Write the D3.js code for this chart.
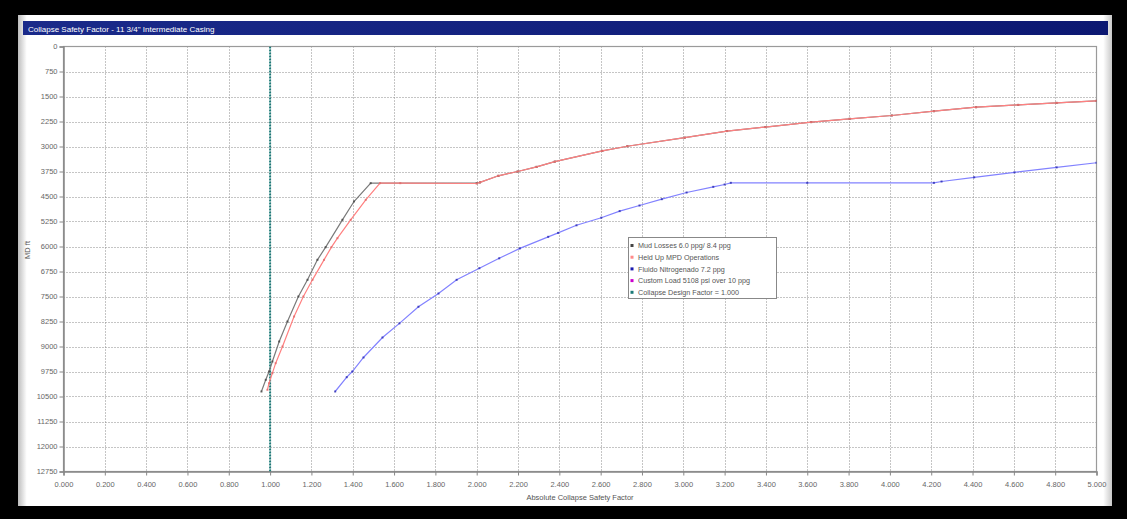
<!DOCTYPE html>
<html><head><meta charset="utf-8">
<script src="https://cdn.jsdelivr.net/npm/d3@7"></script>
<style>
html,body{margin:0;padding:0;background:#000;}
svg text{font-family:"Liberation Sans",Arial,sans-serif;}
</style></head>
<body>
<script>
// ---- data ----
const title = 'Collapse Safety Factor - 11 3/4" Intermediate Casing';
const xTitle = "Absolute Collapse Safety Factor";
const yTitle = "MD ft";
const xTicks = [0,0.2,0.4,0.6,0.8,1.0,1.2,1.4,1.6,1.8,2.0,2.2,2.4,2.6,2.8,3.0,3.2,3.4,3.6,3.8,4.0,4.2,4.4,4.6,4.8,5.0];
const yTicks = [0,750,1500,2250,3000,3750,4500,5250,6000,6750,7500,8250,9000,9750,10500,11250,12000,12750];
const seriesNames = ["Mud Losses 6.0 ppg/ 8.4 ppg","Held Up MPD Operations","Fluido Nitrogenado 7.2 ppg","Custom Load 5108 psi over 10  ppg","Collapse Design Factor = 1.000"];
// [safety factor, MD ft]
const mudLosses = [[0.958,10350],[0.979,10000],[0.995,9750],[1.011,9450],[1.044,8850],[1.084,8250],[1.137,7500],[1.181,7000],[1.229,6400],[1.269,6020],[1.35,5200],[1.406,4650],[1.487,4100],[2.0,4100],[2.016,4077],[2.105,3879],[2.198,3750],[2.29,3611],[2.378,3453],[2.608,3131],[2.729,2992],[3.007,2734],[3.211,2536],[3.397,2417],[3.619,2268],[3.805,2169],[4.009,2070],[4.213,1940],[4.417,1821],[4.621,1752],[4.807,1692],[5.0,1630]];
const heldUpMPD = [[0.987,10300],[0.995,10100],[1.011,9800],[1.027,9500],[1.06,9000],[1.116,8100],[1.161,7500],[1.205,7000],[1.261,6400],[1.297,6020],[1.326,5750],[1.39,5200],[1.463,4600],[1.532,4100],[1.63,4100],[2.0,4110],[2.016,4077],[2.105,3879],[2.198,3750],[2.29,3611],[2.378,3453],[2.608,3131],[2.729,2992],[3.007,2734],[3.211,2536],[3.397,2417],[3.619,2268],[3.805,2169],[4.009,2070],[4.213,1940],[4.417,1821],[4.621,1752],[4.807,1692],[5.0,1630]];
const fluidoNitro = [[1.315,10350],[1.371,9920],[1.398,9750],[1.452,9330],[1.544,8730],[1.626,8306],[1.718,7808],[1.815,7410],[1.903,7000],[2.013,6651],[2.109,6354],[2.209,6057],[2.346,5710],[2.394,5592],[2.483,5364],[2.603,5136],[2.692,4938],[2.788,4770],[2.896,4580],[3.016,4380],[3.145,4210],[3.2,4140],[3.23,4090],[3.6,4090],[4.213,4090],[4.25,4050],[4.408,3925],[4.603,3776],[4.807,3627],[5.0,3488]];
const customLoad = [];
const designFactor = [[1.0,0],[1.0,12750]];

const W = 1127, H = 519;
const svg = d3.select("body").append("svg").attr("width",W).attr("height",H);

// window frame
svg.append("rect").attr("width",W).attr("height",H).attr("fill","#000");
const defs = svg.append("defs");
const lg = defs.append("linearGradient").attr("id","lg").attr("x1",0).attr("x2",1);
lg.append("stop").attr("offset","0").attr("stop-color","#bdbdbd");
lg.append("stop").attr("offset","0.008").attr("stop-color","#fff");
lg.append("stop").attr("offset","0.992").attr("stop-color","#fff");
lg.append("stop").attr("offset","1").attr("stop-color","#c8c8c8");
svg.append("rect").attr("x",18).attr("y",15).attr("width",1094).attr("height",491).attr("fill","url(#lg)");
const tg = defs.append("linearGradient").attr("id","tg").attr("x1",0).attr("x2",1);
tg.append("stop").attr("offset","0").attr("stop-color","#1a2a8a");
tg.append("stop").attr("offset","1").attr("stop-color","#0c1872");
svg.append("rect").attr("x",23).attr("y",21).attr("width",1085).attr("height",14).attr("fill","url(#tg)");
svg.append("text").attr("x",28).attr("y",31.5).attr("fill","#fff").attr("font-size",8).text(title);

const x = d3.scaleLinear().domain([0,5]).range([63.5,1096.5]);
const y = d3.scaleLinear().domain([0,12750]).range([46.5,471.5]);

// grid
const grid = svg.append("g");
grid.selectAll(".vg").data(xTicks.slice(1,-1)).join("line")
  .attr("x1",d=>Math.round(x(d))+0.5).attr("x2",d=>Math.round(x(d))+0.5)
  .attr("y1",y(0)).attr("y2",y(12750))
  .attr("stroke","#8a8a8a").attr("stroke-dasharray","1,2").attr("stroke-width",1);
grid.selectAll(".hg").data(yTicks.slice(1,-1)).join("line")
  .attr("y1",d=>Math.round(y(d))+0.5).attr("y2",d=>Math.round(y(d))+0.5)
  .attr("x1",x(0)).attr("x2",x(5))
  .attr("stroke","#8a8a8a").attr("stroke-dasharray","1,2").attr("stroke-width",1);

// frame box
svg.append("rect").attr("x",x(0)).attr("y",y(0)).attr("width",x(5)-x(0)).attr("height",y(12750)-y(0))
  .attr("fill","none").attr("stroke","#9a9a9a").attr("stroke-width",1.2);

// axes
const xAxis = svg.append("g").attr("transform",`translate(0,${y(12750)})`)
  .call(d3.axisBottom(x).tickValues(xTicks).tickFormat(d3.format(".3f")).tickSize(4).tickPadding(6));
const yAxis = svg.append("g").attr("transform",`translate(${x(0)},0)`)
  .call(d3.axisLeft(y).tickValues(yTicks).tickFormat(d=>String(d)).tickSize(4).tickPadding(2));
[xAxis,yAxis].forEach(a=>{
  a.select(".domain").attr("stroke","#888").attr("stroke-width",1.5);
  a.selectAll(".tick line").attr("stroke","#888");
  a.selectAll(".tick text").attr("fill","#666").attr("font-size",7.5).attr("font-family","Liberation Sans,Arial,sans-serif");
});

svg.append("text").attr("x",580).attr("y",500).attr("text-anchor","middle").attr("fill","#555").attr("font-size",7.5).text(xTitle);
svg.append("text").attr("transform","translate(30,250) rotate(-90)").attr("text-anchor","middle").attr("fill","#555").attr("font-size",7.5).text(yTitle);

// series
const line = d3.line().x(d=>x(d[0])).y(d=>y(d[1]));
defs.append("clipPath").attr("id","pc").append("rect")
  .attr("x",x(0)).attr("y",y(0)).attr("width",x(5)-x(0)).attr("height",y(12750)-y(0));
const plot = svg.append("g").attr("clip-path","url(#pc)");

// design factor
plot.append("path").datum(designFactor).attr("d",line).attr("fill","none")
  .attr("stroke","#1c7a78").attr("stroke-width",2).attr("stroke-dasharray","2,1");

const series = [
  {data:mudLosses,color:"#7a7a7a",mk:"#444"},
  {data:heldUpMPD,color:"#ff8080",mk:"#e06a6a"},
  {data:fluidoNitro,color:"#8282ff",mk:"#2a2ab0"},
  {data:customLoad,color:"#cc00cc",mk:"#cc00cc"}
];
series.forEach((s,i)=>{
  plot.append("path").datum(s.data).attr("d",line).attr("fill","none").attr("stroke",s.color).attr("stroke-width",1.2);
  plot.selectAll(".m"+i).data(s.data).join("rect")
    .attr("x",d=>x(d[0])-1).attr("y",d=>y(d[1])-1).attr("width",2).attr("height",2)
    .attr("fill",s.mk).attr("opacity",0.8);
});

// legend
const lgG = svg.append("g").attr("transform","translate(628.5,237.5)");
lgG.append("rect").attr("width",148).attr("height",61).attr("fill","#fff").attr("stroke","#888");
const legendColors = ["#444","#ff8a8a","#1a1ab0","#cc00cc","#1c7a78"];
seriesNames.forEach((n,i)=>{
  const yy = 8 + i*11.7;
  lgG.append("rect").attr("x",2).attr("y",yy-1.5).attr("width",3).attr("height",3).attr("fill",legendColors[i]);
  lgG.append("text").attr("x",9.5).attr("y",yy+2.6).attr("fill","#555").attr("font-size",7.2).text(n);
});
</script>
</body></html>
